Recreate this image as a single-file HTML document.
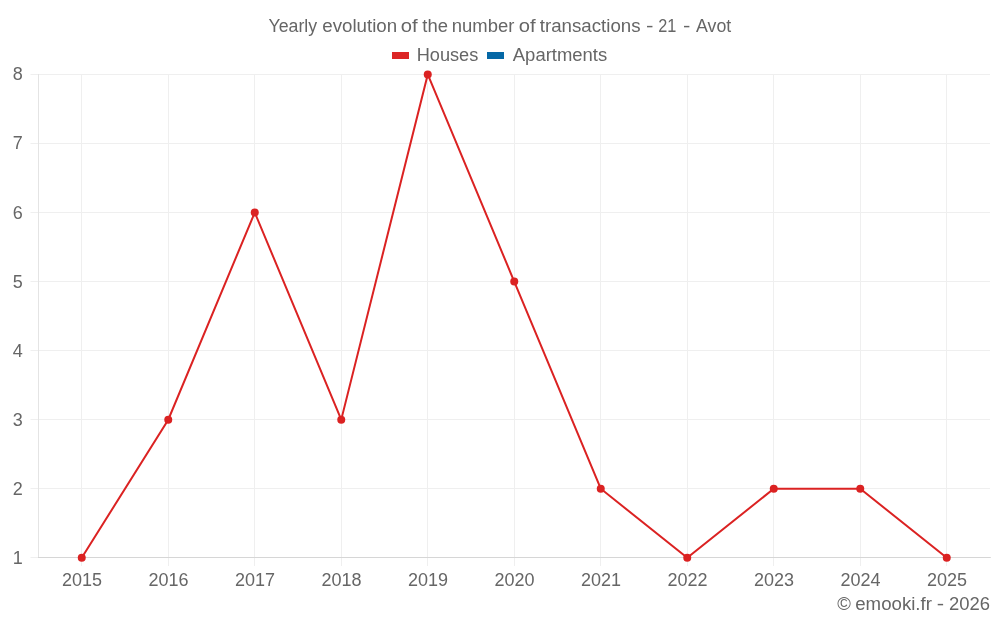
<!DOCTYPE html>
<html lang="en">
<head>
<meta charset="utf-8">
<title>Yearly evolution of the number of transactions - 21 - Avot</title>
<style>
html,body{margin:0;padding:0;background:#ffffff;}
body{width:1000px;height:625px;overflow:hidden;}
svg{display:block;}
text{font-family:"Liberation Sans",sans-serif;font-size:18px;fill:#666666;}
</style>
</head>
<body>
<svg width="1000" height="625" viewBox="0 0 1000 625">
<rect x="0" y="0" width="1000" height="625" fill="#ffffff"/>

<g stroke="#efefef" stroke-width="1" fill="none">
<line x1="30.50" y1="557.50" x2="990.00" y2="557.50"/>
<line x1="30.50" y1="488.50" x2="990.00" y2="488.50"/>
<line x1="30.50" y1="419.50" x2="990.00" y2="419.50"/>
<line x1="30.50" y1="350.50" x2="990.00" y2="350.50"/>
<line x1="30.50" y1="281.50" x2="990.00" y2="281.50"/>
<line x1="30.50" y1="212.50" x2="990.00" y2="212.50"/>
<line x1="30.50" y1="143.50" x2="990.00" y2="143.50"/>
<line x1="30.50" y1="74.50" x2="990.00" y2="74.50"/>
<line x1="81.50" y1="74.00" x2="81.50" y2="566.00"/>
<line x1="168.50" y1="74.00" x2="168.50" y2="566.00"/>
<line x1="254.50" y1="74.00" x2="254.50" y2="566.00"/>
<line x1="341.50" y1="74.00" x2="341.50" y2="566.00"/>
<line x1="427.50" y1="74.00" x2="427.50" y2="566.00"/>
<line x1="514.50" y1="74.00" x2="514.50" y2="566.00"/>
<line x1="600.50" y1="74.00" x2="600.50" y2="566.00"/>
<line x1="687.50" y1="74.00" x2="687.50" y2="566.00"/>
<line x1="773.50" y1="74.00" x2="773.50" y2="566.00"/>
<line x1="860.50" y1="74.00" x2="860.50" y2="566.00"/>
<line x1="946.50" y1="74.00" x2="946.50" y2="566.00"/>
</g>
<line x1="38.50" y1="74.00" x2="38.50" y2="558.00" stroke="#e4e4e4" stroke-width="1"/>
<line x1="38.00" y1="557.50" x2="990.80" y2="557.50" stroke="#d6d6d6" stroke-width="1"/>
<polyline points="81.75,557.80 168.25,419.69 254.75,212.51 341.25,419.69 427.75,74.40 514.25,281.57 600.75,488.74 687.25,557.80 773.75,488.74 860.25,488.74 946.75,557.80" fill="none" stroke="#db2222" stroke-width="2" stroke-linejoin="miter" stroke-linecap="butt"/>
<g fill="#db2222">
<circle cx="81.75" cy="557.80" r="4"/>
<circle cx="168.25" cy="419.69" r="4"/>
<circle cx="254.75" cy="212.51" r="4"/>
<circle cx="341.25" cy="419.69" r="4"/>
<circle cx="427.75" cy="74.40" r="4"/>
<circle cx="514.25" cy="281.57" r="4"/>
<circle cx="600.75" cy="488.74" r="4"/>
<circle cx="687.25" cy="557.80" r="4"/>
<circle cx="773.75" cy="488.74" r="4"/>
<circle cx="860.25" cy="488.74" r="4"/>
<circle cx="946.75" cy="557.80" r="4"/>
</g>
<text id="title" style="font-size:18.3px"><tspan x="268.50" y="31.75" textLength="48.62" lengthAdjust="spacingAndGlyphs">Yearly</tspan> <tspan x="322.25" y="31.75" textLength="74.88" lengthAdjust="spacingAndGlyphs">evolution</tspan> <tspan x="400.70" y="31.75" textLength="16.84" lengthAdjust="spacingAndGlyphs">of</tspan> <tspan x="422.30" y="31.75" textLength="25.66" lengthAdjust="spacingAndGlyphs">the</tspan> <tspan x="451.75" y="31.75" textLength="62.57" lengthAdjust="spacingAndGlyphs">number</tspan> <tspan x="518.70" y="31.75" textLength="16.84" lengthAdjust="spacingAndGlyphs">of</tspan> <tspan x="539.75" y="31.75" textLength="100.84" lengthAdjust="spacingAndGlyphs">transactions</tspan> <tspan x="646.05" y="31.75" textLength="7.43" lengthAdjust="spacingAndGlyphs">-</tspan> <tspan x="658.20" y="31.75" textLength="18.11" lengthAdjust="spacingAndGlyphs">21</tspan> <tspan x="683.00" y="31.75" textLength="7.33" lengthAdjust="spacingAndGlyphs">-</tspan> <tspan x="696.00" y="31.75" textLength="35.20" lengthAdjust="spacingAndGlyphs">Avot</tspan></text>
<rect x="392" y="52" width="17" height="7" fill="#dc2626"/>
<text id="lg1" style="font-size:18.3px"><tspan x="416.70" y="61.20" textLength="61.65" lengthAdjust="spacingAndGlyphs">Houses</tspan></text>
<rect x="487" y="52" width="17" height="7" fill="#0568a6"/>
<text id="lg2" style="font-size:18.3px"><tspan x="512.80" y="61.20" textLength="94.42" lengthAdjust="spacingAndGlyphs">Apartments</tspan></text>
<text class="yl" x="22.8" y="563.80" text-anchor="end">1</text>
<text class="yl" x="22.8" y="494.74" text-anchor="end">2</text>
<text class="yl" x="22.8" y="425.69" text-anchor="end">3</text>
<text class="yl" x="22.8" y="356.63" text-anchor="end">4</text>
<text class="yl" x="22.8" y="287.57" text-anchor="end">5</text>
<text class="yl" x="22.8" y="218.51" text-anchor="end">6</text>
<text class="yl" x="22.8" y="149.46" text-anchor="end">7</text>
<text class="yl" x="22.8" y="80.40" text-anchor="end">8</text>
<text class="xl" x="82.05" y="585.5" text-anchor="middle">2015</text>
<text class="xl" x="168.55" y="585.5" text-anchor="middle">2016</text>
<text class="xl" x="255.05" y="585.5" text-anchor="middle">2017</text>
<text class="xl" x="341.55" y="585.5" text-anchor="middle">2018</text>
<text class="xl" x="428.05" y="585.5" text-anchor="middle">2019</text>
<text class="xl" x="514.55" y="585.5" text-anchor="middle">2020</text>
<text class="xl" x="601.05" y="585.5" text-anchor="middle">2021</text>
<text class="xl" x="687.55" y="585.5" text-anchor="middle">2022</text>
<text class="xl" x="774.05" y="585.5" text-anchor="middle">2023</text>
<text class="xl" x="860.55" y="585.5" text-anchor="middle">2024</text>
<text class="xl" x="947.05" y="585.5" text-anchor="middle">2025</text>
<text id="cp" style="font-size:18.3px"><tspan x="837.25" y="610.00" textLength="13.63" lengthAdjust="spacingAndGlyphs">©</tspan> <tspan x="855.25" y="610.00" textLength="76.67" lengthAdjust="spacingAndGlyphs">emooki.fr</tspan> <tspan x="936.80" y="610.00" textLength="7.33" lengthAdjust="spacingAndGlyphs">-</tspan> <tspan x="949.00" y="610.00" textLength="41.04" lengthAdjust="spacingAndGlyphs">2026</tspan></text>
</svg>
</body>
</html>
